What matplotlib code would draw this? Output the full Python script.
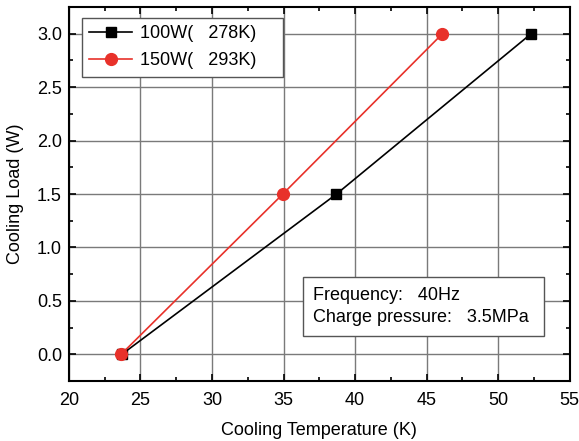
import matplotlib
matplotlib.use("Agg")
import matplotlib.pyplot as plt
from matplotlib.ticker import MultipleLocator

plt.rcParams["font.family"] = ["Liberation Sans", "DejaVu Sans"]

# cooling load (W) vs cooling temperature (K)
load = [0.0, 1.5, 3.0]
temp_100w = [23.7, 38.7, 52.3]
temp_150w = [23.65, 34.95, 46.1]
label_100w = "100W(   278K)    "
label_150w = "150W(   293K)    "

fig = plt.figure(figsize=(5.79, 4.41), dpi=100)
ax = fig.add_axes([0.119, 0.136, 0.865, 0.848])

ax.plot(temp_100w, load, color="black", linewidth=1.2, marker="s", markersize=7, label=label_100w)
ax.plot(temp_150w, load, color="#e8312a", linewidth=1.2, marker="o", markersize=8.5, label=label_150w)

ax.set_xlim(20, 55)
ax.set_ylim(-0.25, 3.25)
ax.xaxis.set_major_locator(MultipleLocator(5))
ax.xaxis.set_minor_locator(MultipleLocator(2.5))
ax.yaxis.set_major_locator(MultipleLocator(0.5))
ax.yaxis.set_minor_locator(MultipleLocator(0.25))
ax.yaxis.set_major_formatter(plt.FormatStrFormatter("%.1f"))
ax.tick_params(which="both", direction="in", top=True, right=True, labelsize=13, width=1.2)
ax.tick_params(which="major", length=5)
ax.tick_params(which="minor", length=3)
ax.tick_params(axis="x", which="major", pad=8)
ax.tick_params(axis="y", which="major", pad=5)
ax.grid(True, which="major", color="#7a7a7a", linewidth=1.0)
ax.set_axisbelow(True)
for s in ax.spines.values():
    s.set_linewidth(1.5)

ax.set_xlabel("Cooling Temperature (K)", fontsize=13, labelpad=9)
ax.set_ylabel("Cooling Load (W)", fontsize=13, labelpad=9)

leg = ax.legend(loc="upper left", bbox_to_anchor=(0.026, 0.97), fontsize=13, fancybox=False,
                edgecolor="#555555", handlelength=2.4, borderpad=0.4, labelspacing=0.55,
                handletextpad=0.4, framealpha=1, borderaxespad=0)
leg.get_frame().set_linewidth(1.0)

ax.text(0.488, 0.2, "Frequency:   40Hz\nCharge pressure:   3.5MPa ", transform=ax.transAxes,
        fontsize=13, va="center", ha="left", linespacing=1.4,
        bbox=dict(boxstyle="square,pad=0.55", facecolor="white", edgecolor="#555555", linewidth=1.0))

fig.savefig("out.png", dpi=100)
